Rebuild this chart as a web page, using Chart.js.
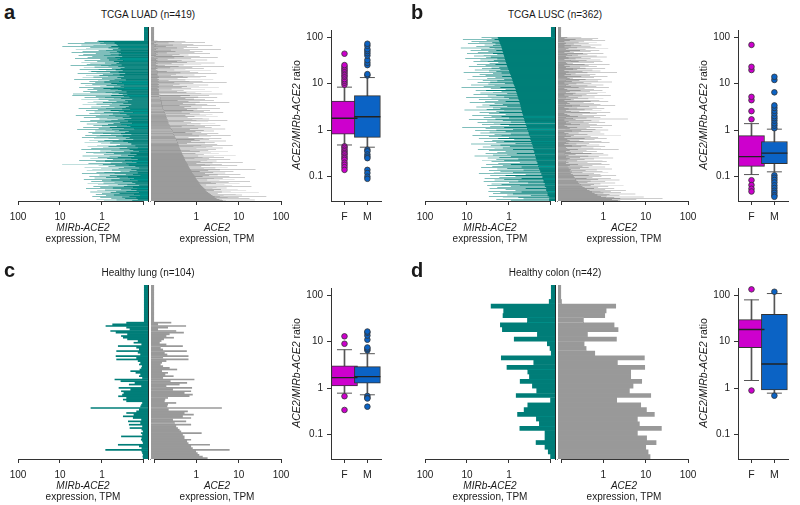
<!DOCTYPE html>
<html>
<head>
<meta charset="utf-8">
<script src="https://cdn.jsdelivr.net/npm/chart.js@4.4.1/dist/chart.umd.min.js"></script>
<style>
  html, body { margin: 0; padding: 0; background: #fff; }
  #fig { position: relative; width: 800px; height: 505px; overflow: hidden;
         font-family: 'Liberation Sans', Arial, sans-serif; color: #1a1a1a; }
  #fig canvas { position: absolute; }
  .txt { position: absolute; white-space: nowrap; font-size: 10px; line-height: 12px; }
  .letter { font-weight: bold; font-size: 20px; line-height: 20px; }
  .ctr { transform: translateX(-50%); }
  .ytitle { font-size: 10.5px; transform: translate(-50%, -50%) rotate(-90deg); }
</style>
</head>
<body>
<div id="fig"></div>
<script>
// ---- per-sample expression (TPM), top row first ----
const luadMirb = [
  0.1, 0.1, 0.1, 0.1, 0.1, 0.1, 0.1, 0.1, 0.1, 0.1, 0.1,
  0.1, 0.1, 0.1, 0.1, 0.1, 0.1, 0.1, 0.1, 0.1, 0.1, 0.1,
  0.1, 0.1, 0.1, 0.1, 0.1, 0.1, 0.1, 0.1, 0.1, 0.1, 0.1,
  1.25, 1.3, 1.2, 0.9, 2.6, 0.5, 1.1, 6.5, 0.45, 0.8, 3.1, 0.42, 1.6, 0.6, 8.8,
  0.38, 1.9, 0.7, 2.4, 0.41, 0.55, 4.2, 0.36, 1.2, 0.8, 2.9, 0.44, 0.65, 5.3, 0.4,
  0.35, 1.4, 2.8, 0.62, 0.4, 3.6, 0.9, 0.33, 1.7, 0.48, 2.2, 0.75, 0.37, 4.4, 1.1, 0.42, 0.68, 2.6, 0.31, 1.3,
  0.52, 3.1, 0.39, 0.85, 1.9, 0.45, 0.6, 2.3, 0.34, 1.05, 5.6, 0.41, 0.7, 1.5, 0.29, 2.7, 0.58, 0.36, 1.2, 3.4,
  0.47, 0.8, 0.32, 1.8, 2.1, 0.4, 0.64, 1.35, 0.28, 3.8, 0.55, 0.95, 0.38, 2.4, 1.15, 0.3, 0.72, 1.6, 0.43, 2.9,
  0.35, 1.0, 0.5, 4.6, 0.27, 1.25, 0.66, 2.0, 0.39, 0.88, 1.45, 0.33, 3.2, 0.6, 0.44, 1.7, 0.3, 2.5, 0.78, 0.36,
  1.1, 0.52, 3.5, 0.29, 0.92, 1.6, 0.41, 2.2, 0.63, 0.34, 1.3, 0.48, 2.8, 0.26, 0.82, 1.9, 0.4, 0.57, 4.9, 0.32,
  0.25, 5.1, 0.6, 0.3, 1.4, 0.22, 0.85, 2.6, 0.35, 0.52, 1.2, 0.19, 3.1, 0.7, 0.28, 1.6, 0.45, 0.24, 2.2, 0.95,
  0.31, 0.58, 1.35, 0.2, 2.9, 0.66, 0.38, 1.05, 0.23, 1.8, 0.5, 0.27, 3.6, 0.8, 0.33, 1.25, 0.21, 0.62, 2.4, 0.4,
  0.3, 1.5, 0.18, 0.9, 2.0, 0.36, 0.55, 1.1, 0.26, 4.2, 0.68, 0.22, 1.4, 0.48, 0.32, 2.7, 0.75, 0.2, 1.15, 0.42,
  0.29, 1.9, 0.6, 0.24, 3.3, 0.85, 0.37, 1.3, 0.19, 0.53, 2.3, 0.34, 0.72, 1.6, 0.25, 1.0, 0.44, 0.21, 2.8, 0.65,
  0.3, 1.2, 0.17, 0.58, 3.9, 0.39, 0.82, 1.45, 0.23, 0.5, 2.1, 0.28, 0.95, 1.7, 0.35, 0.61, 0.2, 2.5, 1.1, 0.32,
  0.46, 1.35, 0.22, 3.0, 0.7, 0.27, 1.55, 0.4, 0.18, 2.0, 0.88, 0.31, 0.56, 1.25, 0.24, 2.6, 0.64, 0.2, 1.05, 0.37,
  0.2, 1.3, 0.45, 0.16, 2.2, 0.7, 0.25, 0.95, 0.14, 1.8, 0.38, 0.22, 3.1, 0.6, 0.18, 1.1, 0.3, 0.13, 2.4, 0.8,
  0.21, 0.52, 1.6, 0.15, 0.9, 0.35, 0.24, 2.9, 0.66, 0.17, 1.25, 0.42, 0.2, 0.75, 1.9, 0.14, 0.55, 0.28, 3.5, 0.85,
  0.19, 1.4, 0.33, 0.15, 0.62, 2.1, 0.26, 0.95, 8.9, 0.23, 0.48, 1.2, 0.16, 0.7, 2.6, 0.3, 0.13, 1.05, 0.4, 0.2,
  1.7, 0.58, 0.15, 2.3, 0.36, 0.22, 0.88, 1.35, 0.14, 0.5, 3.0, 0.27, 0.18, 1.15, 0.65, 0.12, 2.0, 0.44, 0.24, 0.8,
  1.5, 0.17, 0.38, 2.7, 0.21, 0.6, 1.0, 0.14, 0.32, 1.8, 0.5, 0.19, 0.92, 2.2, 0.16, 0.42, 1.25, 0.25, 0.13, 0.7,
  1.6, 0.3, 0.18, 1.1, 0.55, 0.14, 2.4, 0.35, 0.2, 0.85, 1.3, 0.15, 0.46, 0.26, 1.9, 0.62, 0.13, 1.0, 0.38, 0.17,
  1.4, 0.52, 0.12, 0.8, 1.7, 0.22, 0.33, 1.1, 0.15, 0.6, 0.28, 1.35, 0.14, 0.45, 0.9, 0.19
];
const luadAce2 = [
  0.1, 0.1, 0.1, 0.1, 0.1, 0.1, 0.1, 0.1, 0.1, 0.1, 0.1,
  0.1, 0.1, 0.1, 0.1, 0.1, 0.1, 0.1, 0.1, 0.1, 0.1, 0.1,
  0.1, 0.1, 0.1, 0.1, 0.1, 0.1, 0.1, 0.1, 0.1, 0.1, 0.1,
  0.12, 0.55, 0.3, 0.11, 1.6, 0.22, 0.1, 0.45, 0.85, 0.12, 0.28, 2.4, 0.11, 0.6, 0.19,
  0.1, 1.1, 0.35, 0.12, 0.5, 3.8, 0.11, 0.25, 0.7, 0.1, 1.4, 0.32, 0.12, 0.9, 0.2,
  0.11, 2.1, 0.4, 0.12, 0.65, 0.27, 0.11, 1.2, 0.5, 0.1, 3.2, 0.3, 0.12, 0.75, 0.21, 0.11, 1.8, 0.45, 0.12, 0.35,
  0.95, 0.11, 0.6, 2.7, 0.12, 0.26, 1.3, 0.11, 0.5, 0.18, 0.12, 4.5, 0.38, 0.11, 0.8, 0.24, 0.12, 1.5, 0.55, 0.11,
  0.3, 2.2, 0.12, 0.7, 0.2, 0.12, 1.1, 0.42, 0.12, 3.0, 0.33, 0.12, 0.9, 0.25, 0.12, 1.7, 0.48, 0.13, 0.62, 1.25,
  0.12, 0.36, 2.5, 0.13, 0.55, 0.22, 0.12, 1.4, 0.68, 0.13, 5.2, 0.3, 0.12, 0.85, 0.4, 0.13, 1.9, 0.28, 0.12, 0.6,
  1.15, 0.13, 0.45, 3.4, 0.12, 0.75, 0.26, 0.13, 1.6, 0.5, 0.13, 2.3, 0.35, 0.13, 0.95, 0.58, 0.13, 1.3, 4.1, 0.13,
  0.14, 0.7, 2.0, 0.13, 0.42, 1.1, 0.14, 3.1, 0.55, 0.14, 0.88, 1.6, 0.14, 0.36, 2.6, 0.15, 0.65, 1.2, 0.15, 6.0,
  0.48, 0.15, 0.95, 1.8, 0.15, 0.4, 2.9, 0.16, 0.75, 1.35, 0.16, 0.52, 3.6, 0.16, 1.05, 0.6, 0.17, 2.1, 0.85, 0.17,
  1.5, 0.45, 0.18, 4.3, 0.7, 0.18, 1.2, 2.4, 0.19, 0.55, 1.7, 0.19, 0.9, 3.2, 0.2, 0.62, 1.4, 0.2, 2.0, 0.8,
  0.21, 5.4, 1.0, 0.21, 0.5, 1.9, 0.22, 0.75, 2.8, 0.22, 1.25, 0.6, 0.23, 3.7, 0.9, 0.24, 1.6, 0.45, 0.24, 2.3,
  0.25, 1.1, 4.8, 0.26, 0.7, 1.5, 0.27, 2.6, 0.95, 0.28, 1.3, 0.55, 0.28, 3.3, 0.8, 0.29, 1.8, 6.5, 0.3, 1.15,
  0.31, 2.2, 0.65, 0.32, 1.45, 3.9, 0.33, 0.9, 2.0, 0.34, 1.2, 5.0, 0.35, 0.75, 2.7, 0.36, 1.6, 0.6, 0.37, 3.1,
  0.38, 1.3, 7.2, 0.39, 0.85, 2.4, 0.4, 1.7, 4.2, 0.41, 1.0, 2.9, 0.42, 0.7, 1.9, 0.43, 5.6, 1.2, 0.45, 2.2,
  0.46, 0.95, 3.4, 0.47, 1.5, 8.5, 0.49, 1.1, 2.6, 0.5, 4.5, 1.4, 0.52, 2.0, 0.9, 0.54, 6.3, 1.8, 0.55, 3.0,
  0.57, 1.25, 12.5, 0.59, 2.4, 1.0, 0.61, 4.0, 1.6, 0.63, 9.2, 2.1, 0.66, 1.3, 5.5, 0.68, 2.8, 1.5, 0.7, 25,
  0.73, 3.6, 1.9, 0.76, 7.5, 1.2, 0.79, 2.5, 4.8, 0.82, 1.6, 11.0, 0.86, 3.2, 2.0, 0.9, 6.0, 1.4, 0.94, 14.0,
  0.98, 2.6, 4.2, 1.02, 8.0, 1.8, 1.07, 3.5, 18.5, 1.12, 2.2, 5.8, 1.18, 10.5, 2.9, 1.24, 4.6, 1.7, 1.3, 7.0,
  1.38, 20.0, 3.0, 1.46, 5.2, 2.4, 1.55, 9.5, 3.8, 1.65, 15.0, 2.6, 1.75, 6.5, 4.0, 1.9, 30.0, 3.2, 2.05, 8.5,
  2.2, 12.0, 4.4, 2.4, 45.0, 3.6, 2.7, 10.0, 5.5, 3.0, 18.0, 4.0, 3.5, 24.0, 5.0, 4.2
];

const luscMirb = [
  0.1, 0.1, 0.1, 0.1, 0.1, 0.1, 0.1, 0.1, 0.1, 0.1, 0.1,
  0.1, 0.1, 0.1, 0.1, 0.1, 0.1, 0.1, 0.1, 0.1, 0.1,
  1.85, 4.5, 2.6, 1.8, 12.5, 2.2, 1.75, 3.4, 7.8, 1.7, 2.5, 5.2, 1.65, 9.5, 2.1, 1.6, 3.8, 2.4, 1.55, 6.0,
  1.5, 2.9, 14.0, 1.48, 2.2, 4.6, 1.45, 8.2, 2.0, 1.42, 3.1, 5.5, 1.38, 2.4, 10.0, 1.35, 1.9, 4.0, 1.32, 6.8,
  1.3, 2.7, 3.5, 1.27, 11.0, 1.9, 1.24, 4.8, 2.3, 1.21, 3.2, 7.0, 1.18, 1.8, 2.9, 1.15, 5.8, 2.1, 1.12, 3.6,
  1.1, 9.0, 1.7, 1.07, 2.6, 4.4, 1.04, 1.6, 6.5, 1.0, 3.0, 2.0, 0.98, 12.0, 1.5, 0.95, 2.4, 5.0, 0.93, 3.6,
  0.9, 1.45, 7.4, 0.88, 2.1, 3.3, 0.85, 1.3, 9.8, 0.83, 4.2, 1.9, 0.81, 2.8, 5.6, 0.79, 1.25, 3.1, 0.77, 8.0,
  0.75, 2.2, 4.0, 0.73, 1.6, 13.5, 0.71, 2.7, 1.2, 0.69, 6.2, 3.5, 0.68, 1.5, 2.4, 0.66, 4.8, 1.1, 0.65, 7.0,
  0.63, 2.0, 3.2, 0.62, 1.3, 10.5, 0.6, 2.6, 1.0, 0.59, 5.2, 1.8, 0.57, 3.7, 1.2, 0.56, 8.6, 2.2, 0.55, 1.4,
  0.54, 4.3, 2.9, 0.53, 1.1, 6.0, 0.52, 2.4, 1.6, 0.51, 3.4, 11.5, 0.5, 1.3, 2.0, 0.49, 5.0, 1.7, 0.48, 3.0,
  0.47, 1.2, 7.5, 0.46, 2.6, 1.5, 0.45, 4.0, 1.0, 0.44, 2.1, 9.0, 0.43, 1.4, 3.3, 0.42, 0.9, 5.6, 0.41, 2.3,
  0.4, 1.6, 4.4, 0.39, 1.0, 2.8, 0.38, 13.0, 1.3, 0.37, 3.6, 0.8, 0.36, 2.0, 6.4, 0.35, 1.2, 2.9, 0.34, 4.8,
  0.34, 0.9, 2.2, 0.33, 7.4, 1.5, 0.32, 3.0, 1.0, 0.31, 1.8, 5.2, 0.31, 0.75, 2.5, 0.3, 3.9, 1.3, 0.29, 2.0,
  0.29, 0.7, 8.0, 0.28, 1.6, 2.7, 0.27, 0.95, 4.2, 0.27, 1.4, 2.2, 0.26, 5.5, 0.8, 0.26, 3.0, 1.2, 0.25, 1.9,
  0.25, 0.65, 3.6, 0.24, 1.1, 2.4, 0.24, 6.6, 0.9, 0.23, 1.7, 3.2, 0.23, 0.6, 2.0, 0.22, 4.4, 1.3, 0.22, 2.6,
  0.21, 0.55, 1.8, 0.21, 3.5, 0.9, 0.2, 1.4, 2.5, 0.2, 0.5, 4.6, 0.19, 1.1, 1.9, 0.19, 0.45, 3.0, 0.18, 1.6,
  0.18, 0.8, 2.3, 0.17, 5.2, 0.4, 0.17, 1.2, 2.8, 0.16, 0.7, 1.7, 0.16, 3.8, 0.5, 0.15, 1.3, 2.2, 0.15, 0.6,
  4.0, 0.15, 1.0, 0.35, 0.14, 2.6, 1.5, 0.14, 0.55, 3.3, 0.14, 0.9, 1.9, 0.13, 0.4, 2.9, 0.13, 1.2, 0.7, 0.13,
  3.1, 0.12, 0.5, 1.6, 0.12, 2.4, 0.8, 0.12, 1.1, 0.3, 0.12, 3.0, 0.11, 0.6, 1.4, 0.11, 0.45, 2.0, 0.11, 0.9, 0.11
];
const luscAce2 = [
  0.1, 0.1, 0.1, 0.1, 0.1, 0.1, 0.1, 0.1, 0.1, 0.1, 0.1,
  0.1, 0.1, 0.1, 0.1, 0.1, 0.1, 0.1, 0.1, 0.1, 0.1,
  0.14, 0.3, 0.75, 0.12, 0.22, 0.55, 0.16, 1.1, 0.35, 0.12, 0.26, 0.7, 0.13, 0.45, 0.2, 0.12, 0.9, 0.3, 0.17, 0.5,
  0.12, 0.65, 0.24, 0.15, 1.3, 0.38, 0.13, 0.28, 0.8, 0.16, 0.5, 0.2, 0.12, 1.0, 0.33, 0.14, 0.42, 0.25, 0.18, 0.7,
  0.13, 1.2, 0.3, 0.15, 0.5, 0.22, 0.12, 0.85, 0.4, 0.17, 0.26, 0.95, 0.13, 0.6, 0.19, 0.14, 1.4, 0.36, 0.12, 0.45,
  0.16, 0.7, 0.28, 0.13, 0.38, 1.1, 0.19, 0.24, 0.55, 0.12, 0.85, 0.32, 0.15, 2.1, 0.42, 0.13, 0.22, 0.65, 0.17, 0.48,
  0.12, 1.25, 0.3, 0.14, 0.6, 0.19, 0.16, 0.9, 0.38, 0.13, 0.27, 0.75, 0.18, 1.6, 0.34, 0.12, 0.52, 0.23, 0.15, 1.0,
  0.13, 0.42, 0.68, 0.17, 0.26, 1.35, 0.12, 0.36, 0.6, 0.14, 0.95, 0.29, 0.16, 0.48, 1.15, 0.13, 0.22, 0.72, 0.19, 0.4,
  0.12, 1.5, 0.31, 0.15, 0.62, 0.25, 0.13, 1.0, 0.44, 0.17, 0.2, 0.8, 0.12, 0.5, 1.3, 0.14, 0.34, 0.6, 0.16, 0.85,
  0.13, 0.28, 1.9, 0.18, 0.46, 0.7, 0.12, 0.24, 1.05, 0.15, 0.55, 0.36, 0.13, 0.9, 0.27, 0.17, 1.45, 0.48, 0.12, 0.7,
  0.14, 0.32, 1.15, 0.16, 0.6, 0.25, 0.13, 0.85, 0.4, 0.19, 3.8, 0.22, 0.12, 0.52, 0.8, 0.15, 0.34, 1.1, 0.13, 0.45,
  0.17, 0.7, 0.28, 0.12, 1.6, 0.48, 0.14, 0.24, 0.95, 0.16, 0.4, 0.65, 0.13, 1.3, 0.3, 0.18, 0.55, 0.85, 0.12, 0.26,
  0.15, 1.05, 0.42, 0.13, 0.2, 2.6, 0.17, 0.5, 0.75, 0.12, 0.36, 1.2, 0.14, 0.62, 0.27, 0.16, 0.9, 0.34, 0.13, 1.4,
  0.15, 0.46, 0.23, 0.12, 0.8, 0.4, 0.18, 1.1, 0.3, 0.13, 0.58, 0.88, 0.14, 0.25, 2.3, 0.16, 0.4, 0.7, 0.13, 0.33,
  0.17, 1.0, 0.52, 0.12, 0.22, 1.3, 0.15, 0.44, 0.78, 0.13, 0.28, 1.7, 0.16, 0.6, 0.36, 0.14, 0.95, 0.24, 0.13, 1.2,
  0.15, 0.42, 0.9, 0.13, 0.25, 1.4, 0.16, 0.55, 0.32, 0.14, 1.1, 0.45, 0.15, 0.28, 1.6, 0.17, 0.7, 0.38, 0.16, 0.95,
  0.18, 0.32, 1.3, 0.17, 0.6, 0.85, 0.19, 2.0, 0.45, 0.2, 0.9, 0.55, 0.21, 1.5, 0.4, 0.22, 0.75, 2.4, 0.23, 0.5,
  1.1, 0.25, 0.42, 1.9, 0.27, 0.85, 0.6, 0.29, 3.0, 0.5, 0.32, 1.3, 0.75, 0.36, 1.8, 0.6, 0.41, 1.1, 3.4, 0.47,
  1.5, 0.85, 0.54, 2.6, 1.0, 0.62, 5.7, 1.4, 0.72, 2.4, 1.2, 0.88, 9.0, 1.8, 1.15, 25.0, 2.5, 1.6, 6.0, 2.2, 2.5
];

const lungMirb = [
  0.1, 0.1, 0.1, 0.1, 0.1, 0.1, 0.1, 0.1, 0.1, 0.1, 0.1,
  0.1, 0.1, 0.1, 0.1, 0.1, 0.1, 0.1, 0.1, 0.1, 0.1, 0.1,
  0.263, 0.566, 0.818, 0.263, 0.219, 0.63, 0.47, 0.25, 0.35, 0.316,
  0.25, 0.14, 0.176, 0.115, 0.416, 0.152, 0.131, 0.455, 0.14, 0.122,
  0.47, 0.152, 0.455, 0.14, 0.122, 0.131, 0.112, 0.116, 0.127, 0.21,
  0.158, 0.122, 0.131, 0.11, 0.5, 0.36, 0.166, 0.228, 0.116, 0.4,
  0.21, 0.35, 0.305, 0.33, 0.41, 0.263, 0.316, 0.263, 0.11, 0.116,
  0.122, 1.86, 0.131, 0.152, 0.263, 0.176, 0.316, 0.183, 0.116, 0.24,
  0.122, 0.228, 0.11, 0.219, 0.114, 0.106, 0.118, 0.11, 0.35, 0.114,
  0.118, 0.11, 0.106, 0.416, 0.131, 0.114, 0.83, 0.114, 0.11, 0.106,
  0.108, 0.106
];
const lungAce2 = [
  0.1, 0.1, 0.1, 0.1, 0.1, 0.1, 0.1, 0.1, 0.1, 0.1, 0.1,
  0.1, 0.1, 0.1, 0.1, 0.1, 0.1, 0.1, 0.1, 0.1, 0.1, 0.1,
  0.255, 0.124, 0.57, 0.213, 0.124, 0.333, 0.505, 0.233, 0.195, 0.294,
  0.171, 0.149, 0.136, 0.195, 0.478, 0.143, 0.163, 0.594, 0.178, 0.205,
  0.65, 0.163, 0.65, 0.195, 0.154, 0.143, 0.163, 0.233, 0.351, 0.154,
  0.213, 0.184, 0.289, 0.163, 0.898, 0.245, 0.603, 0.4, 0.195, 0.79,
  0.279, 0.75, 0.524, 0.82, 0.686, 0.213, 0.184, 0.178, 0.333, 0.213,
  0.205, 4.0, 0.221, 0.627, 0.524, 0.866, 0.478, 0.75, 0.279, 0.573,
  0.305, 0.75, 0.333, 0.365, 0.4, 0.437, 1.33, 0.478, 0.524, 0.524,
  0.75, 0.603, 0.65, 2.09, 0.75, 0.82, 6.1, 0.98, 1.07, 1.17,
  1.41, 1.84
];

const colonMirb = [
  0.1, 0.1, 0.1, 0.112, 2.71, 1.36, 1.41, 0.369, 1.63, 1.46,
  0.214, 0.762, 0.124, 0.107, 0.1, 1.55, 0.261, 1.135, 0.362, 0.331,
  0.55, 0.281, 0.222, 0.684, 0.104, 0.362, 0.443, 0.635, 0.226, 0.192,
  0.56, 0.141, 0.141, 0.23, 0.141, 0.118, 0.104
];
const colonAce2 = [
  0.1, 0.1, 0.1, 0.104, 1.99, 1.18, 1.095, 0.343, 1.82, 2.26,
  0.427, 2.07, 0.356, 0.397, 0.636, 9.47, 2.18, 9.65, 4.5, 4.5,
  8.19, 5.11, 4.19, 13.4, 2.1, 7.76, 10.6, 16.3, 6.47, 7.21,
  23.9, 6.47, 10.7, 17.9, 10.2, 11.6, 12.9
];

// ---- ACE2/MIRb-ACE2 ratio: [lower whisker, Q1, median, Q3, upper whisker] + outliers ----
const luadF = [0.48, 0.82, 1.8, 4.2, 8.4];
const luadM = [0.43, 0.70, 1.94, 5.5, 13.5];
const luadFOut = [9.5, 10.5, 11.5, 12.5, 14, 15, 16.5, 18, 19.5, 21, 23, 25, 44,
                  0.45, 0.42, 0.38, 0.35, 0.32, 0.3, 0.27, 0.25, 0.23, 0.2, 0.18, 0.16, 0.14];
const luadMOut = [15, 16, 25, 28, 32, 40, 45, 50, 55, 65, 72,
                  0.38, 0.35, 0.3, 0.27, 0.25, 0.14, 0.12, 0.1, 0.09];

const luscF = [0.111, 0.167, 0.27, 0.76, 1.38];
const luscM = [0.127, 0.19, 0.32, 0.57, 1.05];
const luscFOut = [1.71, 2.56, 4.4, 5.2, 19.6, 23, 68, 0.084, 0.066, 0.055, 0.048];
const luscMOut = [1.1, 1.25, 1.4, 1.6, 1.8, 2.0, 2.3, 2.6, 3.0, 3.4, 6.5, 12, 14,
                  0.107, 0.095, 0.085, 0.075, 0.065, 0.057, 0.05, 0.045, 0.04, 0.037];

const lungF = [0.78, 1.12, 1.69, 3.0, 6.7];
const lungM = [0.72, 1.28, 1.77, 2.9, 5.5];
const lungFOut = [9, 13, 0.67, 0.34];
const lungMOut = [6.5, 7.0, 7.5, 11, 13.5, 15.5, 16.5, 0.68, 0.62, 0.6, 0.4];

const colonF = [1.46, 7.4, 18.2, 29.7, 79];
const colonM = [0.78, 0.92, 3.3, 38.5, 108];
const colonFOut = [133, 0.89];
const colonMOut = [118, 0.69];

const expressionTicks = [100, 10, 1, 0.1];   // 0.1 is drawn without label
const ratioTicks = [0.1, 1, 10, 100];

const FONT = "'Liberation Sans', Arial, sans-serif";
const TEAL = '#007d78';
const GREY = '#999999';
const FEMALE = '#cd00cd';
const MALE = '#0b63c5';
const INK = '#333333';

const fig = document.getElementById('fig');

function addText(html, x, y, cls) {
  const d = document.createElement('div');
  d.className = 'txt ' + (cls || '');
  d.style.left = x + 'px';
  d.style.top = y + 'px';
  d.innerHTML = html;
  fig.appendChild(d);
}

function addCanvas(x, y, w, h) {
  const c = document.createElement('canvas');
  c.width = w;
  c.height = h;
  c.style.left = x + 'px';
  c.style.top = y + 'px';
  c.style.width = w + 'px';
  c.style.height = h + 'px';
  fig.appendChild(c);
  return c;
}

// thin bars share pixel rows: add their coverage instead of stacking alpha
const additive = {
  id: 'additive',
  beforeDatasetsDraw(chart) {
    chart.ctx.save();
    chart.ctx.globalCompositeOperation = 'lighter';
  },
  afterDatasetsDraw(chart) {
    chart.ctx.restore();
  }
};

// x axis line only runs from 100 to 0.1
const axisLine = {
  id: 'axisLine',
  afterDraw(chart) {
    const s = chart.scales.x;
    const ctx = chart.ctx;
    const y = Math.round(chart.chartArea.bottom) + 0.5;
    ctx.save();
    ctx.strokeStyle = INK;
    ctx.lineWidth = 1;
    ctx.beginPath();
    ctx.moveTo(s.getPixelForValue(100), y);
    ctx.lineTo(s.getPixelForValue(0.1), y);
    ctx.stroke();
    ctx.restore();
  }
};

function expressionChart(ox, oy, values, color, isLeft) {
  const cv = isLeft ? addCanvas(ox, oy + 27, 160, 204) : addCanvas(ox + 150, oy + 27, 150, 204);
  new Chart(cv, {
    type: 'bar',
    data: {
      labels: values.map((v, i) => i),
      datasets: [{
        data: values,
        backgroundColor: color,
        borderWidth: 0,
        inflateAmount: 0,
        barPercentage: 1,
        categoryPercentage: 1
      }]
    },
    options: {
      indexAxis: 'y',
      responsive: false,
      animation: false,
      devicePixelRatio: 1,
      events: [],
      layout: { padding: isLeft ? { left: 18, right: 12, top: 0, bottom: 0 } : { left: 0, right: 19, top: 0, bottom: 0 } },
      plugins: { legend: { display: false }, tooltip: { enabled: false } },
      scales: {
        x: {
          type: 'logarithmic',
          reverse: isLeft,
          min: 0.08,
          max: 100,
          afterFit: s => { s.height = 30; },
          afterBuildTicks: s => { s.ticks = expressionTicks.map(v => ({ value: v })); },
          ticks: {
            autoSkip: false, maxRotation: 0, padding: 6, color: '#222',
            font: { family: FONT, size: 10 },
            callback: v => (v === 0.1 ? '' : String(v))
          },
          grid: { display: true, drawOnChartArea: false, drawTicks: true, tickLength: 4, color: INK, lineWidth: 1 },
          border: { display: false }
        },
        y: {
          position: isLeft ? 'right' : 'left',
          z: 1,
          afterFit: s => { s.width = 0; },
          ticks: { display: false },
          grid: { display: false },
          border: { display: true, color: isLeft ? '#1f2a29' : '#808080', width: 1 }
        }
      }
    },
    plugins: [additive, axisLine]
  });
}

function ratioChart(ox, oy, f, m, fOut, mOut) {
  // chart area: x 331..393, y 28..201 (panel coords); top padding clears the tick-label allowance
  const cv = addCanvas(ox + 291, oy + 16, 105, 207);
  new Chart(cv, {
    type: 'bar',
    data: {
      datasets: [
        { type: 'bar', data: [{ x: 1, y: [f[0], f[4]] }, { x: 2, y: [m[0], m[4]] }],
          backgroundColor: '#555', borderWidth: 0, barThickness: 1, grouped: false, order: 5 },
        { type: 'bar', data: [{ x: 1, y: [f[1], f[3]] }, { x: 2, y: [m[1], m[3]] }],
          backgroundColor: [FEMALE, MALE], borderColor: INK, borderWidth: 1, borderSkipped: false,
          barThickness: 26, grouped: false, order: 4 },
        { type: 'scatter', data: [{ x: 1, y: f[2] }, { x: 2, y: m[2] }],
          pointStyle: 'line', radius: 13, borderColor: '#222', borderWidth: 1.3, order: 3 },
        { type: 'scatter', data: [{ x: 1, y: f[0] }, { x: 1, y: f[4] }, { x: 2, y: m[0] }, { x: 2, y: m[4] }],
          pointStyle: 'line', radius: 7.5, borderColor: '#555', borderWidth: 1, order: 3 },
        { type: 'scatter', data: fOut.map(v => ({ x: 1, y: v })), clip: false,
          backgroundColor: FEMALE, borderColor: INK, borderWidth: 0.8, radius: 2.8, order: 1 },
        { type: 'scatter', data: mOut.map(v => ({ x: 2, y: v })), clip: false,
          backgroundColor: MALE, borderColor: INK, borderWidth: 0.8, radius: 2.8, order: 1 }
      ]
    },
    options: {
      responsive: false,
      animation: false,
      devicePixelRatio: 1,
      events: [],
      layout: { padding: { left: 0, right: 3, top: 12, bottom: 0 } },
      plugins: { legend: { display: false }, tooltip: { enabled: false } },
      scales: {
        x: {
          type: 'linear', min: 0.4107, max: 2.625, offset: false,
          afterFit: s => { s.height = 22; },
          afterBuildTicks: s => { s.ticks = [{ value: 1 }, { value: 2 }]; },
          ticks: { autoSkip: false, maxRotation: 0, padding: 6, color: '#222',
                   font: { family: FONT, size: 10.5 }, callback: v => (v === 1 ? 'F' : 'M') },
          grid: { offset: false, drawOnChartArea: false, tickLength: 4, color: INK },
          border: { display: true, color: INK, width: 1 }
        },
        y: {
          type: 'logarithmic', min: 0.03, max: 140,
          afterFit: s => { s.width = 40; },
          afterBuildTicks: s => { s.ticks = ratioTicks.map(v => ({ value: v })); },
          ticks: { autoSkip: false, padding: 4, color: '#222',
                   font: { family: FONT, size: 10 }, callback: v => String(v) },
          grid: { drawOnChartArea: false, tickLength: 4, color: INK },
          border: { display: true, color: INK, width: 1 }
        }
      }
    }
  });
}

function panel(ox, oy, letter, title, mirb, ace2, f, m, fOut, mOut) {
  addText(letter, ox + 4, oy + 2, 'letter');
  addText(title, ox + 148, oy + 9, 'ctr');
  expressionChart(ox, oy, mirb, TEAL, true);
  expressionChart(ox, oy, ace2, GREY, false);
  addText('<i>MIRb-ACE2</i>', ox + 83, oy + 222, 'ctr');
  addText('expression, TPM', ox + 83, oy + 233, 'ctr');
  addText('<i>ACE2</i>', ox + 217, oy + 222, 'ctr');
  addText('expression, TPM', ox + 217, oy + 233, 'ctr');
  addText('<i>ACE2/MIRb-ACE2</i> ratio', ox + 296, oy + 115, 'ytitle');
  ratioChart(ox, oy, f, m, fOut, mOut);
}

panel(0, 0, 'a', 'TCGA LUAD (n=419)', luadMirb, luadAce2, luadF, luadM, luadFOut, luadMOut);
panel(407, 0, 'b', 'TCGA LUSC (n=362)', luscMirb, luscAce2, luscF, luscM, luscFOut, luscMOut);
panel(0, 258, 'c', 'Healthy lung (n=104)', lungMirb, lungAce2, lungF, lungM, lungFOut, lungMOut);
panel(407, 258, 'd', 'Healthy colon (n=42)', colonMirb, colonAce2, colonF, colonM, colonFOut, colonMOut);
</script>
</body>
</html>
